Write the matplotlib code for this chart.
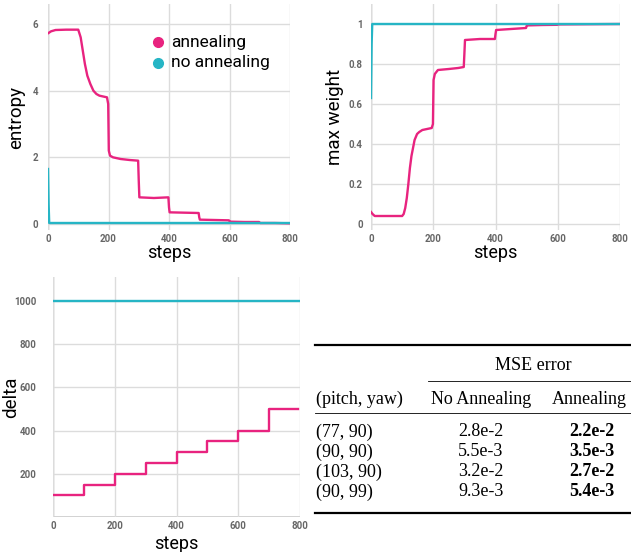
#!/usr/bin/env python3
"""Annealing vs. no annealing: entropy, max weight and delta curves plus MSE table."""

import matplotlib
matplotlib.use("Agg")
import matplotlib.pyplot as plt

# --- data ---
ent_ann_x = [0, 10, 25, 60, 100, 108, 115, 122, 130, 140, 150, 160, 170, 185, 195, 199,
             201, 205, 215, 240, 270, 298, 300, 302, 350, 398, 400, 402, 450, 498,
             500, 502, 550, 598, 600, 602, 650, 698, 700, 702, 750, 800]
ent_ann_y = [5.72, 5.78, 5.82, 5.83, 5.83, 5.6, 5.2, 4.8, 4.45, 4.2, 4.0, 3.9, 3.85, 3.82, 3.8, 3.6,
             2.2, 2.05, 2.0, 1.95, 1.92, 1.9, 1.3, 0.8, 0.78, 0.8, 0.5, 0.35, 0.34, 0.33,
             0.2, 0.13, 0.12, 0.11, 0.09, 0.07, 0.06, 0.06, 0.04, 0.03, 0.03, 0.02]
ent_noann_x = [0, 2, 4, 800]
ent_noann_y = [1.65, 0.6, 0.03, 0.03]

mw_ann_x = [0, 5, 12, 50, 100, 105, 110, 115, 120, 125, 130, 135, 140, 148, 155, 165, 180, 195, 199,
            201, 205, 215, 250, 280, 298, 300, 302, 350, 398, 400, 402, 450, 498,
            500, 502, 550, 598, 600, 602, 700, 800]
mw_ann_y = [0.06, 0.05, 0.04, 0.04, 0.04, 0.05, 0.08, 0.13, 0.2, 0.28, 0.34, 0.38, 0.42, 0.45, 0.46, 0.47, 0.475, 0.48, 0.5,
            0.72, 0.75, 0.77, 0.775, 0.78, 0.785, 0.85, 0.92, 0.925, 0.925, 0.95, 0.97, 0.975, 0.98,
            0.99, 0.993, 0.995, 0.996, 0.997, 0.998, 0.999, 1.0]
mw_noann_x = [0, 2, 4, 800]
mw_noann_y = [0.63, 0.9, 1.0, 1.0]

delta_steps = [0, 100, 200, 300, 400, 500, 600, 700, 795]
delta_ann = [100, 150, 200, 250, 300, 350, 400, 500, 500]
delta_noann_x = [0, 800]
delta_noann_y = [1000, 1000]

table_header = ["(pitch, yaw)", "No Annealing", "Annealing"]
table_rows = ["(77, 90)", "(90, 90)", "(103, 90)", "(90, 99)"]
mse_no_ann = ["2.8e-2", "5.5e-3", "3.2e-2", "9.3e-3"]
mse_ann = ["2.2e-2", "3.5e-3", "2.7e-2", "5.4e-3"]

PINK = "#e8237f"
CYAN = "#26b5c5"
W, H = 631, 552

plt.rcParams["font.family"] = ["Roboto", "DejaVu Sans"]

fig = plt.figure(figsize=(W / 100, H / 100), dpi=100)


def fx(x):
    return x / W


def fy(y):
    return 1 - y / H


def px_axes(x0, x1, y_top, y_bot):
    return fig.add_axes([x0 / W, 1 - y_bot / H, (x1 - x0) / W, (y_bot - y_top) / H])


def style(ax, yticks, yticklabels, ylabel, ylabel_x, steps_y, ypad):
    ax.set_xlim(0, 800)
    ax.set_xticks([0, 200, 400, 600, 800])
    ax.set_yticks(yticks)
    ax.set_yticklabels(yticklabels)
    for s in ax.spines.values():
        s.set_visible(False)
    ax.grid(True, color="#dcdcdc", lw=1.0)
    ax.set_axisbelow(True)
    ax.axvline(0, color="#b0b0b0", lw=1.0, zorder=0.5)
    ax.tick_params(length=0, labelsize=7, labelcolor="#666666", pad=3)
    ax.tick_params(axis="y", pad=ypad)
    for lab in ax.get_xticklabels() + ax.get_yticklabels():
        lab.set_fontweight("bold")
    bb = ax.get_position()
    fig.text(fx(ylabel_x), bb.y0 + bb.height / 2, ylabel, rotation=90,
             ha="center", va="center", fontsize=13.5)
    fig.text(bb.x0 + bb.width / 2, fy(steps_y), "steps",
             ha="center", va="center", fontsize=13)


# --- entropy ---
ax1 = px_axes(48, 290, 4, 230)
ax1.plot(ent_ann_x, ent_ann_y, color=PINK, lw=1.7)
ax1.plot(ent_noann_x, ent_noann_y, color=CYAN, lw=1.7)
ax1.set_ylim(-0.18, 6.6)
style(ax1, [0, 2, 4, 6], ["0", "2", "4", "6"], "entropy", 16, 253, 7)

# legend drawn as markers + text in figure pixels
for ly, col, txt in [(42, PINK, "annealing"), (63, CYAN, "no annealing")]:
    fig.lines.append(plt.Line2D([fx(158)], [fy(ly)], marker="o", ms=7, color=col,
                                transform=fig.transFigure))
    fig.text(fx(171), fy(ly), txt, fontsize=12.5, va="center", ha="left")

# --- max weight ---
ax2 = px_axes(371, 620, 4, 230)
ax2.plot(mw_ann_x, mw_ann_y, color=PINK, lw=1.7)
ax2.plot(mw_noann_x, mw_noann_y, color=CYAN, lw=1.7)
ax2.set_ylim(-0.03, 1.1)
style(ax2, [0, 0.2, 0.4, 0.6, 0.8, 1.0], ["0", "0.2", "0.4", "0.6", "0.8", "1"],
      "max weight", 335, 253, 6)

# --- delta ---
ax3 = px_axes(53, 300, 277, 517)
ax3.step(delta_steps, delta_ann, where="post", color=PINK, lw=1.7)
ax3.plot(delta_noann_x, delta_noann_y, color=CYAN, lw=1.7)
ax3.set_ylim(0, 1110)
style(ax3, [0, 200, 400, 600, 800, 1000], ["", "200", "400", "600", "800", "1000"],
      "delta", 11, 544, 12)
ax3.axhline(0, color="#c8c8c8", lw=1.2, zorder=0.5)

# --- table ---
serif = ["Liberation Serif", "DejaVu Serif"]
tfs = 13

for x0, y, lw in [(315, 345, 1.6), (428, 381, 0.6), (315, 413, 0.6), (315, 513, 1.6)]:
    fig.lines.append(plt.Line2D([fx(x0), fx(631)], [fy(y), fy(y)], color="black", lw=lw,
                                transform=fig.transFigure))
fig.text(fx(533), fy(365), "MSE error", family=serif, fontsize=tfs, ha="center", va="center")
fig.text(fx(316), fy(399), table_header[0], family=serif, fontsize=tfs, ha="left", va="center")
fig.text(fx(481), fy(399), table_header[1], family=serif, fontsize=tfs, ha="center", va="center")
fig.text(fx(589), fy(399), table_header[2], family=serif, fontsize=tfs, ha="center", va="center")
row_y = [432, 452, 472, 492]
for ry, name, a, b in zip(row_y, table_rows, mse_no_ann, mse_ann):
    fig.text(fx(316), fy(ry), name, family=serif, fontsize=tfs, ha="left", va="center")
    fig.text(fx(481), fy(ry), a, family=serif, fontsize=tfs, ha="center", va="center")
    fig.text(fx(592), fy(ry), b, family=serif, fontsize=tfs, ha="center", va="center",
             fontweight="bold")

fig.savefig("out.png", dpi=100)
